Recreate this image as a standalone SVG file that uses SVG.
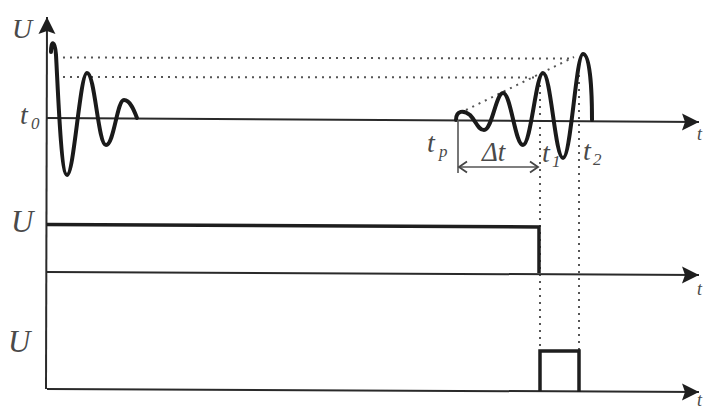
<svg xmlns="http://www.w3.org/2000/svg" width="706" height="410" viewBox="0 0 706 410">
<style>
.axis{stroke:#2a2a2a;stroke-width:2;fill:none}
.wave{stroke:#1a1a1a;stroke-width:4;fill:none;stroke-linecap:round;stroke-linejoin:round}
.sig{stroke:#1e1e1e;stroke-width:3.5;fill:none;stroke-linejoin:miter}
.dot{stroke:#555;stroke-width:2;fill:none;stroke-dasharray:2 5}
.thin{stroke:#555;stroke-width:1.6;fill:none}
.lbl{font-family:"Liberation Serif","DejaVu Serif",serif;font-style:italic;fill:#4a4a4a}
.sub{font-family:"Liberation Serif","DejaVu Serif",serif;font-style:italic;fill:#4a4a4a;font-size:17px}
</style>
<defs>
<marker id="ah" markerUnits="userSpaceOnUse" markerWidth="20" markerHeight="20" viewBox="-18 -9 20 18" refX="0" refY="0" orient="auto">
<path d="M0,0 L-17,-8.5 L-14,0 L-17,8.5 Z" fill="#1e1e1e"/>
</marker>
<marker id="open" markerUnits="userSpaceOnUse" markerWidth="14" markerHeight="14" viewBox="-10 -7 12 14" refX="0" refY="0" orient="auto-start-reverse">
<path d="M-8,-5.5 L0,0 L-8,5.5" fill="none" stroke="#444" stroke-width="1.8"/>
</marker>
</defs>

<g id="guides">
<line class="dot" x1="56" y1="57.5" x2="574" y2="58.5"/>
<line class="dot" x1="56" y1="77" x2="534" y2="77.5"/>
<line class="dot" x1="466" y1="110" x2="574" y2="57"/>
<line class="dot" x1="540" y1="78" x2="540" y2="350"/>
<line class="dot" x1="579" y1="68" x2="579" y2="350"/>
</g>

<g id="axes">
<line class="axis" x1="46" y1="389" x2="47" y2="17" marker-end="url(#ah)"/>
<line class="axis" x1="47" y1="118" x2="699" y2="122" marker-end="url(#ah)"/>
<line class="axis" x1="47" y1="272" x2="699" y2="275" marker-end="url(#ah)"/>
<line class="axis" x1="47" y1="389" x2="699" y2="392" marker-end="url(#ah)"/>
</g>

<g id="waveform-t0">
<path class="wave" d="M51,52 C51,40 55,40 56,55 C58,90 61,175 67,175 C74,175 80,73 87,73 C95,73 98,145 106,145 C114,145 117,100 124,100 C130,100 134,110 137,118"/>
</g>

<g id="waveform-tp">
<path class="wave" d="M456,120 C456,110 464,110 470,115 C476,121 478,130 484,130 C492,130 496,93 503,93 C511,93 515,145 523,145 C531,145 536,73 543,73 C551,73 555,158 563,158 C571,158 576,54 583,54 C590,54 592,90 592,120"/>
</g>

<g id="delta-t">
<line class="thin" x1="458" y1="120" x2="458" y2="173"/>
<line class="thin" x1="459" y1="167" x2="538" y2="167" marker-start="url(#open)" marker-end="url(#open)"/>
</g>

<g id="signal-1">
<polyline class="sig" points="47,224.5 539,227 539,273"/>
</g>

<g id="signal-2">
<polyline class="sig" points="540,391 540,351 579,351 579,392"/>
</g>

<g id="labels">
<text class="lbl" x="12" y="38" font-size="28">U</text>
<text class="lbl" x="20" y="124" font-size="28">t</text>
<text class="sub" x="31" y="129">0</text>
<text class="lbl" x="427" y="152" font-size="28">t</text>
<text class="sub" x="439" y="157">p</text>
<text class="lbl" x="482" y="161" font-size="27">Δt</text>
<text class="lbl" x="542" y="162" font-size="28">t</text>
<text class="sub" x="552" y="167">1</text>
<text class="lbl" x="583" y="160" font-size="28">t</text>
<text class="sub" x="593" y="165">2</text>
<text class="lbl" x="11" y="232" font-size="31">U</text>
<text class="lbl" x="8" y="352" font-size="31">U</text>
<text class="lbl" x="697" y="140" font-size="18">t</text>
<text class="lbl" x="697" y="295" font-size="18">t</text>
<text class="lbl" x="697" y="406" font-size="18">t</text>
</g>
</svg>
